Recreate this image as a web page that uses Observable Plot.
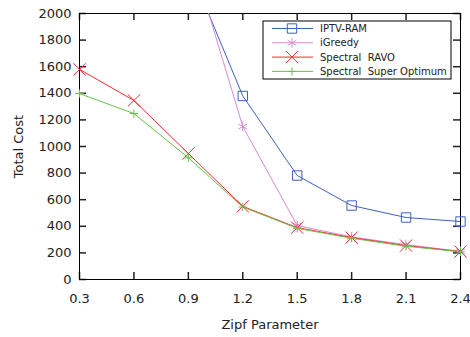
<!DOCTYPE html>
<html>
<head>
<meta charset="utf-8">
<script src="https://cdn.jsdelivr.net/npm/d3@7"></script>
<script src="https://cdn.jsdelivr.net/npm/@observablehq/plot@0.6"></script>
<style>
  html, body { margin: 0; padding: 0; background: #fff; }
  #chart svg { display: block; }
</style>
</head>
<body>
<div id="chart"></div>
<script>
const zipf = [0.3, 0.6, 0.9, 1.2, 1.5, 1.8, 2.1, 2.4];
const xTicks = [0.3, 0.6, 0.9, 1.2, 1.5, 1.8, 2.1, 2.4];
const yTicks = [0, 200, 400, 600, 800, 1000, 1200, 1400, 1600, 1800, 2000];

const seriesNames = ["IPTV-RAM", "iGreedy", "Spectral  RAVO", "Spectral  Super Optimum"];
// values at zipf 0.9 .. 2.4 for the first two series (0.9 is above the chart top)
const iptvRamZipf = [0.9, 1.2, 1.5, 1.8, 2.1, 2.4];
const iptvRam = [2365, 1380, 782, 556, 466, 436];
const iGreedyZipf = [0.9, 1.2, 1.5, 1.8, 2.1, 2.4];
const iGreedy = [2510, 1150, 406, 320, 262, 212];
const spectralRavo = [1580, 1346, 947, 550, 390, 315, 255, 210];
const spectralSuper = [1398, 1248, 915, 545, 385, 310, 250, 208];

const colors = ["#3f5fbf", "#d78ad0", "#f52a2a", "#66c24a"];
const symbols = ["square", "asterisk", "times", "plus"];
const radii = [5.3, 4.7, 5.6, 2.8];

const rows = (xs, ys) => xs.map((x, i) => ({x, y: ys[i]}));
const data = [
  rows(iptvRamZipf, iptvRam),
  rows(iGreedyZipf, iGreedy),
  rows(zipf, spectralRavo),
  rows(zipf, spectralSuper)
];

const font = "DejaVu Sans, Verdana, sans-serif";
const marks = [];
data.forEach((d, i) => {
  marks.push(Plot.line(d, {x: "x", y: "y", stroke: colors[i], strokeWidth: 1, clip: true}));
});
data.forEach((d, i) => {
  marks.push(Plot.dot(d.filter(p => p.y <= 2000), {x: "x", y: "y", symbol: () => symbols[i], r: radii[i], stroke: colors[i], strokeWidth: 1, fill: "none"}));
});

const W = 470, H = 337, ML = 79, MR = 10, MT = 13, MB = 58, T = 7;
const innerW = W - ML - MR, innerH = H - MT - MB;
const xDom = [0.3, 2.4], yDom = [0, 2000];
const ty = (yDom[1] - yDom[0]) * T / innerH;
const tx = (xDom[1] - xDom[0]) * T / innerW;
const tickStyle = {stroke: "#222", strokeWidth: 1.5};
const chart = Plot.plot({
  width: W,
  height: H,
  marginLeft: ML,
  marginRight: MR,
  marginTop: MT,
  marginBottom: MB,
  style: {fontFamily: font, background: "#fff"},
  symbol: {type: "identity"},
  x: {domain: xDom},
  y: {domain: yDom},
  marks: [
    Plot.ruleX(xTicks, {x: d => d, y1: yDom[0], y2: yDom[0] + ty, ...tickStyle}),
    Plot.ruleX(xTicks, {x: d => d, y1: yDom[1] - ty, y2: yDom[1], ...tickStyle}),
    Plot.ruleY(yTicks, {y: d => d, x1: xDom[0], x2: xDom[0] + tx, ...tickStyle}),
    Plot.ruleY(yTicks, {y: d => d, x1: xDom[1] - tx, x2: xDom[1], ...tickStyle}),
    Plot.frame({stroke: "#000", strokeWidth: 1}),
    Plot.axisX(xTicks, {anchor: "bottom", tickSize: 0, tickPadding: 14, fontSize: 13, fill: "#222", tickFormat: d => d.toFixed(1), label: "Zipf Parameter", labelAnchor: "center", labelArrow: "none", labelOffset: 49}),
    Plot.axisY(yTicks, {anchor: "left", tickSize: 0, tickPadding: 8, fontSize: 13, fill: "#222", tickFormat: d => String(d), label: "Total Cost", labelAnchor: "center", labelArrow: "none", labelOffset: 66}),
    ...marks
  ]
});

document.getElementById("chart").appendChild(chart);

// legend inside the plot
const svg = d3.select(chart);
const lg = svg.append("g").attr("font-family", font).attr("font-size", 10).attr("text-anchor", "start");
const bx = 263, by = 21, bw = 188, bh = 58;
lg.append("rect").attr("x", bx).attr("y", by).attr("width", bw).attr("height", bh).attr("fill", "#fff").attr("stroke", "#000");
const d3sym = {square: d3.symbolSquare, asterisk: d3.symbolAsterisk, times: d3.symbolTimes, plus: d3.symbolPlus};
seriesNames.forEach((name, i) => {
  const yy = by + 7.5 + i * 14.3;
  lg.append("line").attr("x1", bx + 9).attr("x2", bx + 50).attr("y1", yy).attr("y2", yy).attr("stroke", colors[i]);
  const size = Math.PI * radii[i] * radii[i];
  lg.append("path").attr("d", d3.symbol(d3sym[symbols[i]], size)()).attr("transform", `translate(${bx + 29},${yy})`).attr("fill", "none").attr("stroke", colors[i]);
  lg.append("text").attr("x", bx + 57).attr("y", yy).attr("dy", "0.35em").attr("fill", "#222").attr("text-anchor", "start").style("white-space", "pre").text(name);
});
</script>
</body>
</html>
